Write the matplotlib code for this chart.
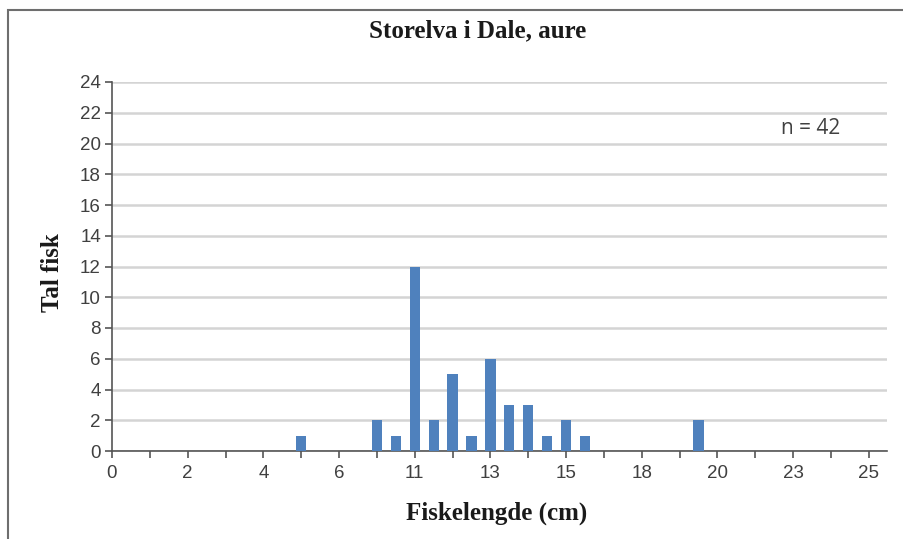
import matplotlib.pyplot as plt
from matplotlib.patches import Rectangle

# bar positions on the category axis (one tick step = 1) and fish counts
positions = [5, 7, 7.5, 8, 8.5, 9, 9.5, 10, 10.5, 11, 11.5, 12, 12.5, 15.5]
counts = [1, 2, 1, 12, 2, 5, 1, 6, 3, 3, 1, 2, 1, 2]

tick_positions = list(range(0, 21))
label_positions = [0, 2, 4, 6, 8, 10, 12, 14, 16, 18, 20]
label_texts = ["0", "2", "4", "6", "11", "13", "15", "18", "20", "23", "25"]
y_ticks = list(range(0, 25, 2))

fig = plt.figure(figsize=(9.04, 5.39), dpi=100)
ax = fig.add_axes([112 / 904, 1 - 451 / 539, (887 - 112) / 904, (451 - 82) / 539])

# outer chart frame
fig.patches.append(Rectangle((8 / 904, -0.01), 1.0, 1 - 10 / 539 + 0.01,
                             transform=fig.transFigure, fill=False,
                             edgecolor="#6e6e6e", linewidth=1.5))

ax.bar(positions, counts, width=0.27, color="#4F81BD", zorder=3)

ax.set_xlim(0, 20.48)
ax.set_ylim(0, 24)
ax.set_yticks(y_ticks)
ax.set_xticks(tick_positions)
ax.set_xticklabels(["" for _ in tick_positions])
for p, t in zip(label_positions, label_texts):
    ax.text(p, -1.45, t, ha="center", va="center", fontsize=13.5,
            family="Liberation Sans", color="#404040")

ax.yaxis.grid(True, color="#d4d4d4", linewidth=1.8, zorder=0)
ax.set_axisbelow(True)
for side in ["top", "right"]:
    ax.spines[side].set_visible(False)
ax.spines["left"].set_color("#555555")
ax.spines["bottom"].set_color("#555555")
ax.spines["left"].set_linewidth(1.2)
ax.spines["bottom"].set_linewidth(1.2)
ax.tick_params(axis="both", direction="out", length=5, color="#555555", width=1.2)
ax.tick_params(axis="y", labelsize=13.5, labelcolor="#404040", pad=3)
for lbl in ax.get_yticklabels():
    lbl.set_family("Liberation Sans")

fig.text(478 / 904, 1 - 31 / 539, "Storelva i Dale, aure", ha="center", va="center",
         fontsize=18, fontweight="bold", family="Liberation Serif", color="#1a1a1a")
fig.text(53 / 904, 1 - 273 / 539, "Tal fisk", ha="center", va="center", rotation=90,
         fontsize=18, fontweight="bold", family="Liberation Serif", color="#1a1a1a")
fig.text(497 / 904, 1 - 513 / 539, "Fiskelengde (cm)", ha="center", va="center",
         fontsize=18, fontweight="bold", family="Liberation Serif", color="#1a1a1a")
fig.text(811 / 904, 1 - 128 / 539, "n = 42", ha="center", va="center",
         fontsize=15, family="Open Sans", color="#404040")

fig.savefig("out.png", dpi=100, facecolor="white")
